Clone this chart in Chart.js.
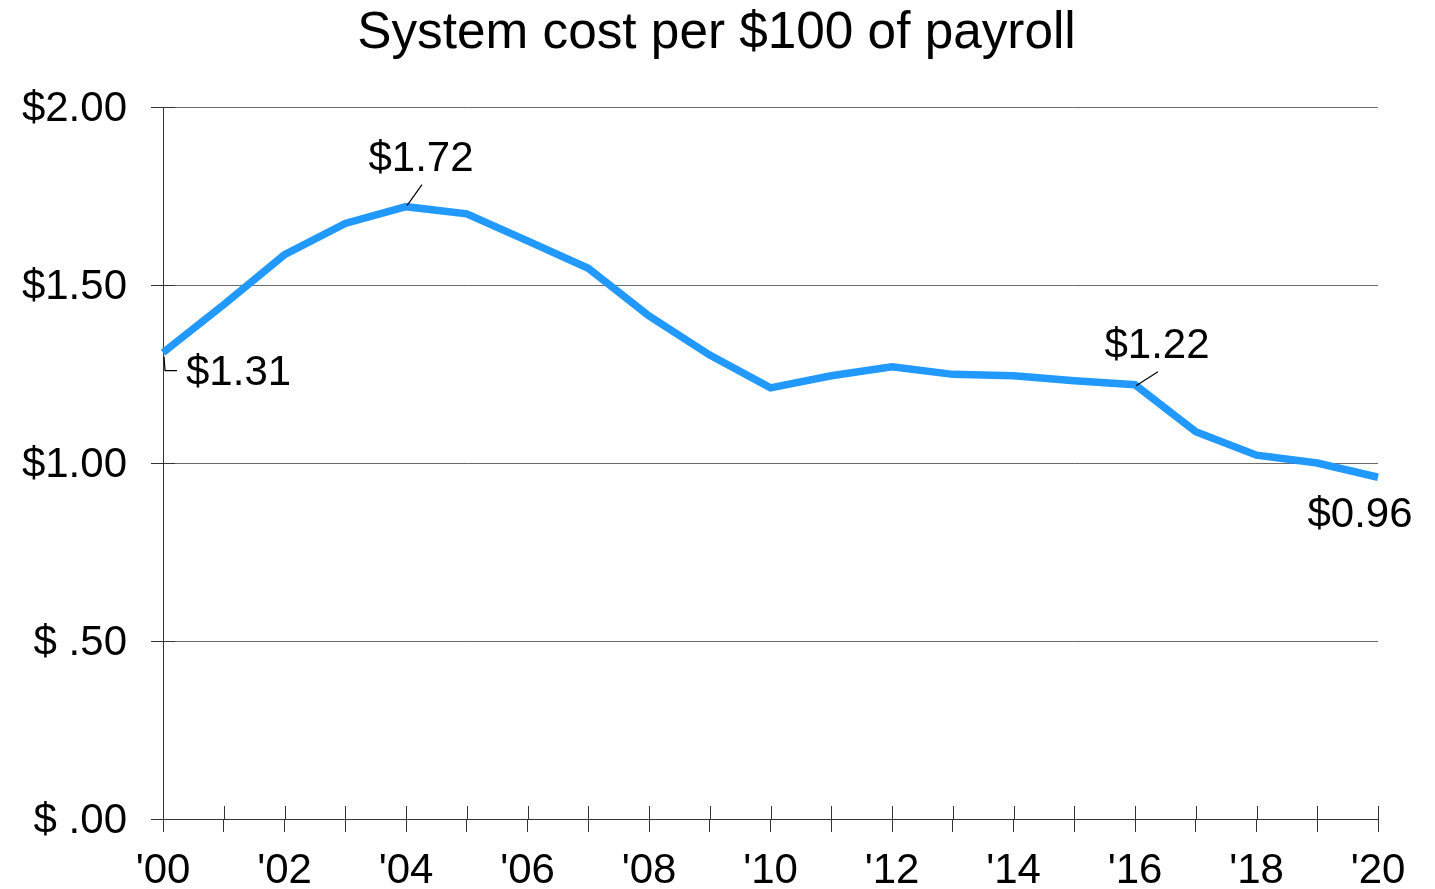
<!DOCTYPE html>
<html>
<head>
<meta charset="utf-8">
<script src="https://cdn.jsdelivr.net/npm/chart.js@4"></script>
<style>
  html, body { margin: 0; padding: 0; background: #fff; }
  #wrap { width: 1435px; height: 889px; position: relative; }
</style>
</head>
<body>
<div id="wrap"><canvas id="c" width="1435" height="889"></canvas></div>
<script>
const titleText = 'System cost per $100 of payroll';
const years = ['2000','2001','2002','2003','2004','2005','2006','2007','2008','2009','2010',
               '2011','2012','2013','2014','2015','2016','2017','2018','2019','2020'];
const xTickLabels = ["'00","","'02","","'04","","'06","","'08","","'10",
                     "","'12","","'14","","'16","","'18","","'20"];
const costPer100 = [1.31, 1.445, 1.585, 1.673, 1.72, 1.70, 1.624, 1.547, 1.413, 1.303, 1.211,
                    1.245, 1.27, 1.249, 1.245, 1.231, 1.22, 1.088, 1.022, 1.00, 0.96];
const yTickValues = [0, 0.5, 1.0, 1.5, 2.0];
const yTickLabels = ['$ .00', '$ .50', '$1.00', '$1.50', '$2.00'];
const callouts = [
  { index: 0,  text: '$1.31' },
  { index: 4,  text: '$1.72' },
  { index: 16, text: '$1.22' },
  { index: 20, text: '$0.96' }
];

const FONT = '"Liberation Sans", Arial, sans-serif';

const decorPlugin = {
  id: 'decor',
  afterDraw(chart) {
    const ctx = chart.ctx;
    const xs = chart.scales.x, ys = chart.scales.y;
    const area = chart.chartArea;
    ctx.save();
    // inner parts of crossing tick marks
    ctx.strokeStyle = '#333';
    ctx.lineWidth = 1;
    ctx.beginPath();
    for (let i = 0; i < years.length; i++) {
      const x = Math.round(xs.getPixelForValue(i)) + 0.5;
      ctx.moveTo(x, area.bottom - 13);
      ctx.lineTo(x, area.bottom);
    }
    for (const v of yTickValues) {
      const y = Math.round(ys.getPixelForValue(v)) + 0.5;
      ctx.moveTo(area.left, y);
      ctx.lineTo(area.left + 12, y);
    }
    ctx.stroke();

    // title
    ctx.fillStyle = '#000';
    ctx.font = '51.3px ' + FONT;
    ctx.textAlign = 'center';
    ctx.textBaseline = 'alphabetic';
    ctx.fillText(titleText, chart.width / 2 - 1, 48);

    // callouts
    ctx.font = '42px ' + FONT;
    ctx.textBaseline = 'middle';
    ctx.strokeStyle = '#000';
    ctx.lineWidth = 1.2;
    for (const c of callouts) {
      const px = xs.getPixelForValue(c.index);
      const py = ys.getPixelForValue(costPer100[c.index]);
      ctx.beginPath();
      if (c.index === 0) {
        ctx.moveTo(px + 1, py + 4);
        ctx.lineTo(px + 2, py + 18);
        ctx.lineTo(px + 14, py + 18);
        ctx.stroke();
        ctx.textAlign = 'left';
        ctx.fillText(c.text, px + 23, py + 21);
      } else if (c.index === 4) {
        ctx.moveTo(px + 1, py - 1);
        ctx.lineTo(px + 16, py - 22);
        ctx.stroke();
        ctx.textAlign = 'center';
        ctx.fillText(c.text, px + 15, py - 47);
      } else if (c.index === 16) {
        ctx.moveTo(px + 1, py + 1);
        ctx.lineTo(px + 23, py - 13);
        ctx.stroke();
        ctx.textAlign = 'center';
        ctx.fillText(c.text, px + 22, py - 38);
      } else {
        ctx.textAlign = 'center';
        ctx.fillText(c.text, px - 18, py + 38);
      }
    }
    ctx.restore();
  }
};

new Chart(document.getElementById('c'), {
  type: 'line',
  data: {
    labels: years,
    datasets: [{
      data: costPer100,
      borderColor: '#2299ff',
      borderWidth: 7.5,
      pointRadius: 0,
      tension: 0,
      fill: false,
      borderJoinStyle: 'miter',
      borderCapStyle: 'butt',
      clip: false
    }]
  },
  options: {
    responsive: false,
    animation: false,
    devicePixelRatio: 1,
    layout: { padding: { top: 107, right: 57, bottom: 0, left: 0 } },
    plugins: {
      legend: { display: false },
      title: { display: false },
      tooltip: { enabled: false }
    },
    scales: {
      x: {
        type: 'category',
        offset: false,
        grid: {
          display: true,
          drawOnChartArea: false,
          drawTicks: true,
          tickLength: 13,
          tickColor: '#333',
          tickWidth: 1
        },
        border: { display: true, color: '#333', width: 1 },
        ticks: {
          autoSkip: false,
          maxRotation: 0,
          minRotation: 0,
          padding: 14,
          color: '#000',
          font: { family: FONT, size: 42 },
          callback: (v, i) => xTickLabels[i]
        },
        afterFit: (s) => { s.height = 70; }
      },
      y: {
        min: 0,
        max: 2,
        afterBuildTicks: (s) => { s.ticks = yTickValues.map(v => ({ value: v })); },
        grid: {
          color: '#6a6a6a',
          lineWidth: 1,
          drawTicks: true,
          tickLength: 12,
          tickColor: '#333'
        },
        border: { display: true, color: '#333', width: 1 },
        ticks: {
          padding: 24,
          labelOffset: 2,
          color: '#000',
          font: { family: FONT, size: 42 },
          callback: (v) => yTickLabels[yTickValues.indexOf(v)]
        },
        afterFit: (s) => { s.width = 163; }
      }
    }
  },
  plugins: [decorPlugin]
});
</script>
</body>
</html>
